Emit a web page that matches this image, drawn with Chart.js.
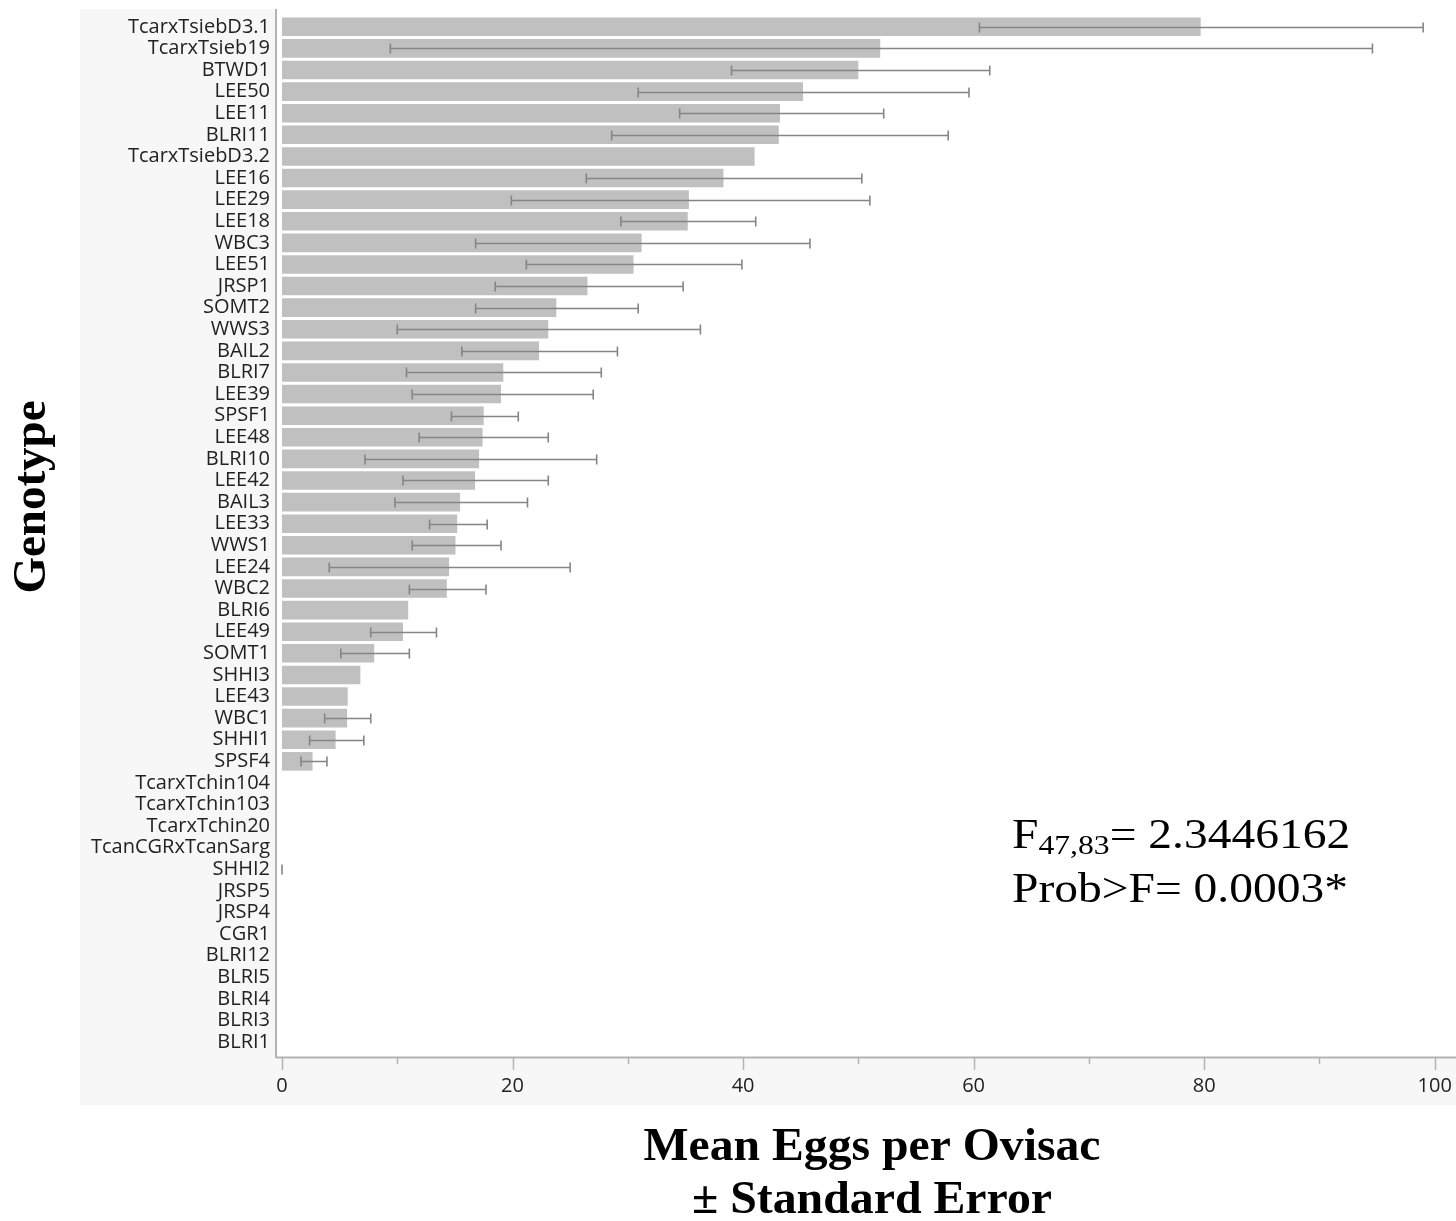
<!DOCTYPE html>
<html><head><meta charset="utf-8">
<script src="https://cdn.jsdelivr.net/npm/chart.js@4.4.0/dist/chart.umd.min.js"></script>
<style>html,body{margin:0;padding:0;background:#fff;}#wrap{width:1456px;height:1221px;position:relative}</style>
</head><body><div id="wrap"><canvas id="c" width="1456" height="1221"></canvas></div>
<script>
const categories = ['TcarxTsiebD3.1','TcarxTsieb19','BTWD1','LEE50','LEE11','BLRI11','TcarxTsiebD3.2','LEE16','LEE29','LEE18','WBC3','LEE51','JRSP1','SOMT2','WWS3','BAIL2','BLRI7','LEE39','SPSF1','LEE48','BLRI10','LEE42','BAIL3','LEE33','WWS1','LEE24','WBC2','BLRI6','LEE49','SOMT1','SHHI3','LEE43','WBC1','SHHI1','SPSF4','TcarxTchin104','TcarxTchin103','TcarxTchin20','TcanCGRxTcanSarg','SHHI2','JRSP5','JRSP4','CGR1','BLRI12','BLRI5','BLRI4','BLRI3','BLRI1'];
const means = [79.7,51.9,50.0,45.2,43.2,43.1,41.0,38.3,35.3,35.2,31.2,30.5,26.5,23.8,23.1,22.3,19.2,19.0,17.5,17.4,17.1,16.75,15.45,15.2,15.05,14.5,14.3,10.95,10.5,8.0,6.8,5.7,5.65,4.65,2.65,0,0,0,0,0,0,0,0,0,0,0,0,0];
const seLower = [60.5,9.4,39.0,30.9,34.5,28.6,null,26.4,19.9,29.4,16.8,21.2,18.5,16.8,10.0,15.6,10.8,11.3,14.7,11.9,7.2,10.5,9.8,12.8,11.3,4.1,11.05,null,7.7,5.1,null,null,3.7,2.4,1.65,null,null,null,null,0,null,null,null,null,null,null,null,null];
const seUpper = [99.0,94.6,61.4,59.6,52.2,57.8,null,50.3,51.0,41.1,45.8,39.9,34.8,30.9,36.3,29.1,27.7,27.0,20.5,23.1,27.3,23.1,21.3,17.8,19.0,25.0,17.7,null,13.4,11.05,null,null,7.7,7.1,3.9,null,null,null,null,0,null,null,null,null,null,null,null,null];
const xTicks = [0,20,40,60,80,100];
const xMinorTicks = [10,30,50,70,90];
const statMain = 'F';
const statSub = '47,83';
const statRest = '= 2.3446162';
const statLine2 = 'Prob>F= 0.0003*';
const xTitleLines = ['Mean Eggs per Ovisac','± Standard Error'];
const yTitle = 'Genotype';

const GRID_GRAY = '#b4b4b4';

const panelPlugin = {
  id: 'panel',
  beforeDraw(chart) {
    const {ctx, chartArea: a} = chart;
    ctx.save();
    ctx.fillStyle = '#f7f7f7';
    ctx.fillRect(80, 9, 1376, 1096);
    ctx.fillStyle = '#ffffff';
    ctx.fillRect(a.left, 9, a.right - a.left, 1057 - 9);
    ctx.restore();
  }
};

const axesPlugin = {
  id: 'axesDeco',
  afterDatasetsDraw(chart) {
    const {ctx, chartArea: a, scales} = chart;
    const xs = scales.x;
    ctx.save();
    ctx.strokeStyle = GRID_GRAY;
    ctx.lineWidth = 2;
    ctx.beginPath();
    ctx.moveTo(a.left, 9); ctx.lineTo(a.left, 1058);
    ctx.moveTo(a.left, 1057.5); ctx.lineTo(a.right, 1057.5);
    ctx.stroke();
    ctx.lineWidth = 1.5;
    ctx.beginPath();
    xTicks.forEach(v => { const px = Math.round(xs.getPixelForValue(v)) + 0.5; ctx.moveTo(px, 1058); ctx.lineTo(px, 1070); });
    xMinorTicks.forEach(v => { const px = Math.round(xs.getPixelForValue(v)) + 0.5; ctx.moveTo(px, 1058); ctx.lineTo(px, 1064); });
    ctx.stroke();
    // error bars
    const ys = scales.y;
    ctx.strokeStyle = '#858585';
    ctx.lineWidth = 1.6;
    ctx.beginPath();
    for (let i = 0; i < categories.length; i++) {
      if (seLower[i] == null) continue;
      const y = Math.round(ys.getPixelForValue(i)) + 0.5;
      const x1 = xs.getPixelForValue(seLower[i]);
      const x2 = xs.getPixelForValue(seUpper[i]);
      ctx.moveTo(x1, y); ctx.lineTo(x2, y);
      ctx.moveTo(x1, y - 5); ctx.lineTo(x1, y + 5);
      ctx.moveTo(x2, y - 5); ctx.lineTo(x2, y + 5);
    }
    ctx.stroke();
    ctx.restore();
  }
};

function stretchedText(ctx, text, targetW) {
  const w = ctx.measureText(text).width;
  return targetW / w;
}

const textPlugin = {
  id: 'texts',
  afterDraw(chart) {
    const ctx = chart.ctx;
    ctx.save();
    ctx.fillStyle = '#000';
    ctx.textBaseline = 'alphabetic';
    // x title
    ctx.font = 'bold 47px "Liberation Serif", "Times New Roman", serif';
    ctx.textAlign = 'center';
    const tw = [457, 360];
    const tb = [1160, 1213];
    xTitleLines.forEach((t, i) => {
      const sx = stretchedText(ctx, t, tw[i]);
      ctx.save(); ctx.translate(872, tb[i]); ctx.scale(sx, 1); ctx.fillText(t, 0, 0); ctx.restore();
    });
    // y title
    ctx.save();
    ctx.translate(45, 497);
    ctx.rotate(-Math.PI / 2);
    ctx.font = 'bold 46px "Liberation Serif", "Times New Roman", serif';
    const sy = stretchedText(ctx, yTitle, 193);
    ctx.scale(sy, 1);
    ctx.fillText(yTitle, 0, 0);
    ctx.restore();
    // stats
    ctx.textAlign = 'left';
    const bigFont = '42px "Liberation Serif", "Times New Roman", serif';
    const subFont = '28px "Liberation Serif", "Times New Roman", serif';
    ctx.font = bigFont;
    const s = stretchedText(ctx, statLine2, 336);
    ctx.save(); ctx.translate(1012, 902); ctx.scale(s, 1); ctx.fillText(statLine2, 0, 0); ctx.restore();
    ctx.save(); ctx.translate(1012, 848); ctx.scale(s, 1);
    ctx.font = bigFont; let x = 0;
    ctx.fillText(statMain, x, 0); x += ctx.measureText(statMain).width;
    ctx.font = subFont; ctx.fillText(statSub, x, 6); x += ctx.measureText(statSub).width;
    ctx.font = bigFont; ctx.fillText(statRest, x, 0);
    ctx.restore();
    ctx.restore();
  }
};

new Chart(document.getElementById('c'), {
  type: 'bar',
  data: {
    labels: categories,
    datasets: [{
      data: means,
      backgroundColor: '#c0c0c0',
      borderWidth: 0,
      barPercentage: 0.86,
      categoryPercentage: 1.0
    }]
  },
  options: {
    indexAxis: 'y',
    responsive: false,
    animation: false,
    devicePixelRatio: 1,
    layout: { padding: { left: 80, top: 16, right: 0, bottom: 114 } },
    plugins: { legend: { display: false }, tooltip: { enabled: false }, title: { display: false } },
    scales: {
      x: {
        type: 'linear', min: -0.52, max: 101.85, position: 'bottom',
        grid: { display: false, drawTicks: false },
        border: { display: false },
        ticks: { autoSkip: false, maxRotation: 0, includeBounds: false, padding: 21,
                 font: { family: '"Open Sans"', size: 20 }, color: '#222' },
        afterBuildTicks: s => { s.ticks = xTicks.map(v => ({ value: v })); },
        afterFit: s => { s.height = 54; s.paddingLeft = 0; s.paddingRight = 0; }
      },
      y: {
        grid: { display: false, drawTicks: false },
        border: { display: false },
        ticks: { autoSkip: false, padding: 6, font: { family: '"Open Sans"', size: 20 }, color: '#222' },
        afterFit: s => { s.width = 196; s.paddingTop = 0; s.paddingBottom = 0; }
      }
    }
  },
  plugins: [panelPlugin, axesPlugin, textPlugin]
});
</script>
</body></html>
